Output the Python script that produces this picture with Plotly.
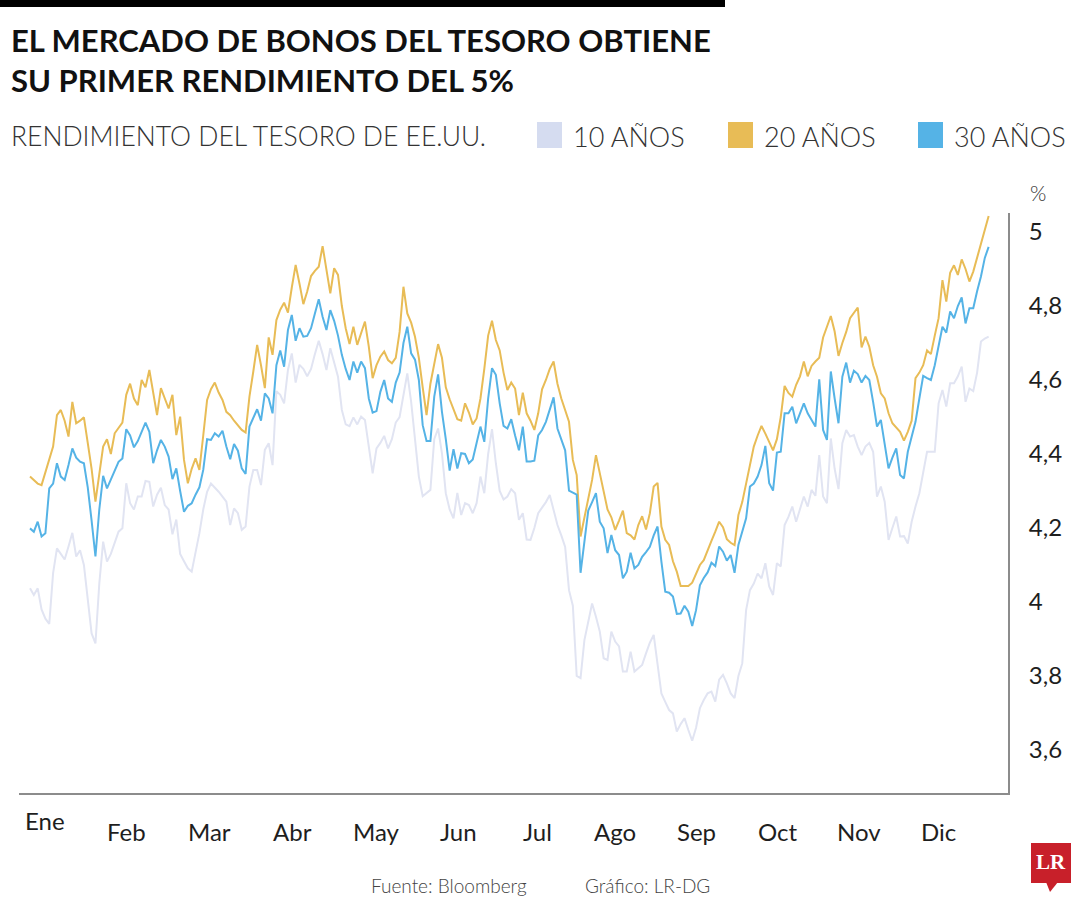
import plotly.graph_objects as go

# ---------------- data ----------------
dias = list(range(250))  # trading-day index

bono_10 = [
    4.037, 4.019, 4.037, 3.98, 3.955, 3.941, 4.078, 4.145, 4.13, 4.115, 4.15, 4.187, 4.123, 4.14, 4.10, 4.0,
    3.915, 3.888, 4.05, 4.163, 4.109, 4.13, 4.16, 4.19, 4.199, 4.321, 4.267, 4.25, 4.285, 4.285, 4.327, 4.325,
    4.258, 4.29, 4.309, 4.262, 4.25, 4.183, 4.223, 4.13, 4.11, 4.091,
    4.082, 4.13, 4.186, 4.25, 4.298, 4.32, 4.31, 4.298, 4.285, 4.271, 4.208, 4.253, 4.24, 4.195, 4.204, 4.312,
    4.357, 4.357, 4.316, 4.411, 4.429, 4.37, 4.57, 4.56, 4.537, 4.627, 4.672, 4.593, 4.641, 4.63, 4.61, 4.63,
    4.67, 4.706, 4.67, 4.627, 4.686, 4.65, 4.609, 4.519, 4.48, 4.475, 4.499,
    4.48, 4.501, 4.492, 4.424, 4.348, 4.415, 4.43, 4.449, 4.415, 4.44, 4.485, 4.50, 4.56, 4.618, 4.541, 4.438,
    4.339, 4.286, 4.295, 4.303, 4.44, 4.469, 4.402, 4.294, 4.25, 4.226, 4.295, 4.235, 4.267, 4.262, 4.24, 4.267,
    4.339, 4.294, 4.40, 4.467, 4.375, 4.30, 4.277, 4.285, 4.305, 4.294, 4.222,
    4.24, 4.169, 4.168, 4.20, 4.24, 4.255, 4.27, 4.289, 4.25, 4.208, 4.18, 4.149, 4.032, 3.99, 3.80, 3.794,
    3.897, 3.95, 3.996, 3.96, 3.92, 3.848, 3.843, 3.92, 3.893, 3.88, 3.812, 3.812, 3.866, 3.812, 3.82, 3.83,
    3.861, 3.89, 3.911, 3.83, 3.753, 3.73, 3.708, 3.699, 3.65, 3.67, 3.686,
    3.654, 3.625, 3.66, 3.713, 3.735, 3.753, 3.758, 3.731, 3.79, 3.803, 3.78, 3.753, 3.74, 3.80, 3.834, 3.978,
    4.032, 4.05, 4.077, 4.064, 4.105, 4.042, 4.019, 4.105, 4.096, 4.208, 4.23, 4.258, 4.217, 4.25, 4.285, 4.258,
    4.303, 4.287, 4.397, 4.285, 4.267, 4.442, 4.36, 4.305, 4.429, 4.465,
    4.447, 4.451, 4.42, 4.397, 4.42, 4.43, 4.406, 4.285, 4.312, 4.271, 4.168, 4.20, 4.231, 4.177, 4.178, 4.158,
    4.217, 4.258, 4.294, 4.35, 4.406, 4.406, 4.406, 4.537, 4.573, 4.528, 4.591, 4.591, 4.61, 4.636, 4.541, 4.577,
    4.57, 4.62, 4.704, 4.712, 4.717,
]

bono_20 = [
    4.339, 4.33, 4.32, 4.316, 4.35, 4.38, 4.42, 4.505, 4.519, 4.49, 4.447, 4.541, 4.483, 4.49, 4.499, 4.43,
    4.36, 4.271, 4.34, 4.42, 4.44, 4.40, 4.456, 4.47, 4.485, 4.56, 4.59, 4.55, 4.532, 4.60, 4.58, 4.627,
    4.56, 4.505, 4.578, 4.55, 4.523, 4.56, 4.451, 4.501, 4.384, 4.321,
    4.36, 4.388, 4.357, 4.45, 4.546, 4.575, 4.593, 4.566, 4.546, 4.514, 4.505, 4.49, 4.478, 4.465, 4.458, 4.555,
    4.623, 4.695, 4.64, 4.578, 4.715, 4.668, 4.762, 4.79, 4.809, 4.782, 4.85, 4.911, 4.86, 4.805, 4.839, 4.881,
    4.895, 4.906, 4.962, 4.902, 4.834, 4.902, 4.884, 4.80, 4.74, 4.697, 4.744,
    4.695, 4.73, 4.758, 4.69, 4.605, 4.64, 4.663, 4.677, 4.654, 4.645, 4.66, 4.73, 4.852, 4.78, 4.755, 4.717,
    4.66, 4.58, 4.505, 4.59, 4.645, 4.697, 4.66, 4.58, 4.548, 4.523, 4.494, 4.49, 4.537, 4.512, 4.48, 4.496,
    4.55, 4.63, 4.72, 4.76, 4.708, 4.68, 4.62, 4.573, 4.593, 4.577, 4.505,
    4.566, 4.51, 4.49, 4.465, 4.51, 4.575, 4.60, 4.63, 4.65, 4.59, 4.55, 4.52, 4.487, 4.384, 4.343, 4.177,
    4.23, 4.285, 4.33, 4.397, 4.35, 4.303, 4.25, 4.229, 4.195, 4.22, 4.247, 4.186, 4.18, 4.169, 4.208, 4.232,
    4.196, 4.24, 4.312, 4.322, 4.204, 4.168, 4.154, 4.11, 4.082, 4.043, 4.043,
    4.043, 4.052, 4.075, 4.10, 4.113, 4.142, 4.165, 4.19, 4.217, 4.202, 4.17, 4.16, 4.154, 4.235, 4.27, 4.32,
    4.375, 4.42, 4.45, 4.476, 4.455, 4.431, 4.41, 4.44, 4.50, 4.584, 4.565, 4.555, 4.587, 4.61, 4.65, 4.61,
    4.638, 4.65, 4.66, 4.715, 4.745, 4.773, 4.731, 4.665, 4.70, 4.73,
    4.767, 4.78, 4.796, 4.688, 4.717, 4.69, 4.64, 4.609, 4.564, 4.55, 4.51, 4.483, 4.47, 4.46, 4.436, 4.46,
    4.49, 4.605, 4.62, 4.64, 4.68, 4.67, 4.72, 4.767, 4.87, 4.812, 4.89, 4.91, 4.884, 4.926, 4.90, 4.866,
    4.893, 4.93, 4.97, 5.01, 5.043,
]

bono_30 = [
    4.199, 4.19, 4.217, 4.177, 4.186, 4.307, 4.32, 4.375, 4.339, 4.33, 4.37, 4.415, 4.39, 4.379, 4.375, 4.31,
    4.22, 4.123, 4.25, 4.341, 4.307, 4.33, 4.355, 4.379, 4.388, 4.467, 4.45, 4.418, 4.435, 4.46, 4.485, 4.46,
    4.375, 4.41, 4.438, 4.42, 4.393, 4.332, 4.361, 4.30, 4.244, 4.26,
    4.267, 4.29, 4.31, 4.357, 4.44, 4.438, 4.456, 4.447, 4.463, 4.42, 4.386, 4.427, 4.409, 4.361, 4.346, 4.474,
    4.50, 4.521, 4.49, 4.564, 4.55, 4.51, 4.64, 4.68, 4.636, 4.735, 4.776, 4.706, 4.74, 4.717, 4.719, 4.74,
    4.78, 4.818, 4.771, 4.735, 4.789, 4.76, 4.72, 4.668, 4.63, 4.60, 4.65,
    4.62, 4.65, 4.632, 4.55, 4.512, 4.516, 4.568, 4.60, 4.55, 4.541, 4.593, 4.62, 4.70, 4.744, 4.672, 4.655,
    4.60, 4.478, 4.435, 4.435, 4.555, 4.615, 4.514, 4.44, 4.355, 4.413, 4.361, 4.402, 4.40, 4.375, 4.385, 4.43,
    4.474, 4.433, 4.55, 4.632, 4.614, 4.537, 4.476, 4.469, 4.494, 4.45, 4.41,
    4.474, 4.38, 4.38, 4.382, 4.45, 4.465, 4.487, 4.52, 4.553, 4.469, 4.44, 4.41, 4.301, 4.295, 4.29, 4.079,
    4.16, 4.247, 4.27, 4.294, 4.217, 4.199, 4.132, 4.181, 4.14, 4.127, 4.064, 4.082, 4.133, 4.091, 4.10, 4.122,
    4.135, 4.149, 4.18, 4.204, 4.109, 4.028, 4.025, 4.015, 3.968, 3.969, 3.99,
    3.974, 3.935, 3.978, 4.045, 4.065, 4.08, 4.106, 4.097, 4.15, 4.136, 4.112, 4.127, 4.079, 4.154, 4.19, 4.226,
    4.312, 4.32, 4.339, 4.37, 4.422, 4.321, 4.301, 4.404, 4.406, 4.51, 4.51, 4.528, 4.483, 4.51, 4.537, 4.51,
    4.49, 4.474, 4.602, 4.465, 4.438, 4.623, 4.55, 4.483, 4.609, 4.647,
    4.593, 4.625, 4.616, 4.593, 4.611, 4.60, 4.54, 4.474, 4.492, 4.43, 4.361, 4.39, 4.415, 4.343, 4.334, 4.406,
    4.45, 4.487, 4.55, 4.611, 4.605, 4.60, 4.64, 4.697, 4.744, 4.728, 4.785, 4.767, 4.80, 4.823, 4.753, 4.794,
    4.794, 4.84, 4.88, 4.93, 4.96,
]

meses = ["Ene", "Feb", "Mar", "Abr", "May", "Jun", "Jul", "Ago", "Sep", "Oct", "Nov", "Dic"]
meses_pos = [4.0, 25.1, 46.6, 68.3, 90.0, 111.4, 131.7, 151.9, 173.2, 194.2, 215.3, 236.0]

y_ticks = [3.6, 3.8, 4.0, 4.2, 4.4, 4.6, 4.8, 5.0]
y_text = ["3,6", "3,8", "4", "4,2", "4,4", "4,6", "4,8", "5"]

series_names = ["10 AÑOS", "20 AÑOS", "30 AÑOS"]

# ---------------- styling ----------------
W, H = 1080, 900
ML, MR, MT, MB = 19, 72, 213, 107
PW, PH = W - ML - MR, H - MT - MB

C10, C20, C30 = "#E1E4F2", "#E8BC56", "#55B3E6"
LEG10 = "#D5DCF0"
FONT = "Lato, Roboto, 'Open Sans', sans-serif"
TXT = "#1e1e1e"


def px(x):
    # page x pixel -> paper coordinate
    return (x - ML) / PW


def py(y):
    # page y pixel -> paper coordinate
    return (H - MB - y) / PH


def day_of(xpix):
    return (xpix - 30) / 3.85


def val_of(ypix):
    return 5 - (ypix - 232) / 370


fig = go.Figure()
for vals, col, name in [(bono_10, C10, series_names[0]), (bono_20, C20, series_names[1]),
                        (bono_30, C30, series_names[2])]:
    fig.add_trace(go.Scatter(x=dias[:len(vals)], y=vals, mode="lines", name=name,
                             line=dict(color=col, width=2), hoverinfo="skip"))

annotations = []
shapes = []


def text(t, x, y, size, color="#222222", anchor="left", weight="normal", family=FONT, xref="paper"):
    annotations.append(dict(text=t, x=x, y=y, xref=xref, yref="paper", xanchor=anchor, yanchor="middle",
                            showarrow=False, align="left",
                            font=dict(family=family, size=size, color=color, weight=weight)))


# title (two lines in one block)
text("EL MERCADO DE BONOS DEL TESORO OBTIENE<br>SU PRIMER RENDIMIENTO DEL 5%", px(9), py(60), 31,
     "#111111", weight="bold")
shapes.append(dict(type="rect", xref="paper", yref="paper", x0=px(0), x1=px(725), y0=py(0), y1=py(7),
                   fillcolor="#000000", line=dict(width=0), layer="above"))

# subtitle + legend
text("RENDIMIENTO DEL TESORO DE EE.UU.", px(9), py(136), 26.5, "#333333", weight=300)
for x0, col, name in [(537, LEG10, series_names[0]), (728, C20, series_names[1]), (918, C30, series_names[2])]:
    shapes.append(dict(type="rect", xref="paper", yref="paper", x0=px(x0), x1=px(x0 + 25),
                       y0=py(148), y1=py(122), fillcolor=col, line=dict(width=0)))
    text(name, px(x0 + 34), py(136), 27, "#333333", weight=300)

# % unit
text("%", px(1028), py(192), 21, "#333333", weight=300)

# month labels
for m, pos in zip(meses, meses_pos):
    yc = 820 if m == "Ene" else 831
    text(m, pos, py(yc), 24, TXT, anchor="center", xref="x")

# footer
text("Fuente: Bloomberg", px(369), py(885), 19, "#444444", weight=300)
text("Gráfico: LR-DG", px(583), py(885), 19, "#444444", weight=300)

# LR logo
shapes.append(dict(type="rect", xref="paper", yref="paper", x0=px(1031), x1=px(1071), y0=py(883), y1=py(843),
                   fillcolor="#C8202A", line=dict(width=0)))
shapes.append(dict(type="path", xref="paper", yref="paper",
                   path=f"M {px(1046)},{py(882)} L {px(1058)},{py(882)} L {px(1050)},{py(892)} Z",
                   fillcolor="#C8202A", line=dict(width=0)))
text("LR", px(1051), py(862), 21, "#FFFFFF", anchor="center", weight="bold",
     family="'Liberation Serif', 'DejaVu Serif', serif")

fig.update_layout(
    width=W, height=H,
    margin=dict(l=ML, r=MR, t=MT, b=MB, pad=0),
    paper_bgcolor="#FFFFFF", plot_bgcolor="#FFFFFF",
    showlegend=False,
    annotations=annotations, shapes=shapes,
    xaxis=dict(range=[day_of(19), day_of(1008)], showgrid=False, zeroline=False,
               showticklabels=False, ticks="", showline=True, linecolor="#8C8C8C", linewidth=2,
               fixedrange=True),
    yaxis=dict(range=[val_of(793), val_of(213)], side="right",
               showgrid=False, zeroline=False, showline=True, linecolor="#8C8C8C", linewidth=2,
               tickvals=y_ticks, ticktext=y_text, ticks="", ticklabelstandoff=14,
               tickfont=dict(family=FONT, size=24, color=TXT), fixedrange=True),
)

fig.write_html("out.html", config={"displayModeBar": False},
               post_script="document.body.style.margin='0';document.body.style.padding='0';")
